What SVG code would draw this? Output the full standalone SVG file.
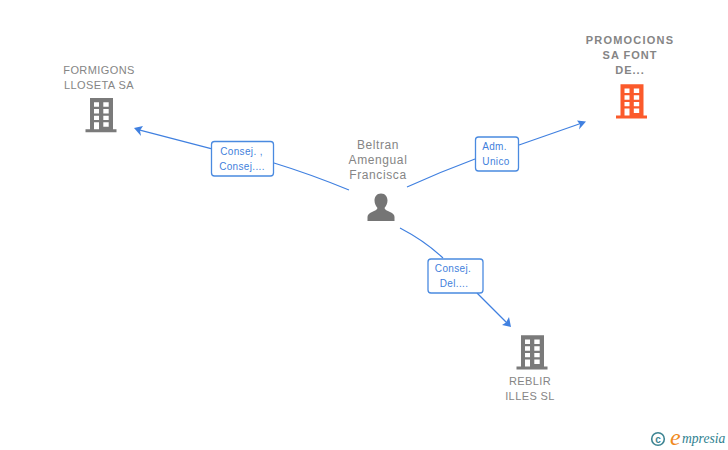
<svg xmlns="http://www.w3.org/2000/svg" xmlns:xlink="http://www.w3.org/1999/xlink" width="728" height="450" viewBox="0 0 728 450">
<style>
text{font-family:"Liberation Sans",Arial,sans-serif}
.n{font-size:11px;fill:#858585;text-anchor:middle;letter-spacing:.4px}
.p{font-size:12px;letter-spacing:.6px}
.l{font-size:10px;fill:#3f7fdc;text-anchor:middle;letter-spacing:.35px}
.b{fill:#fff;stroke:#4a8ae0;stroke-width:1.3}
.c{fill:none;stroke:#4080e0;stroke-width:1.2}
.h{fill:#4080e0}
</style>
<defs>
<g id="bld">
<path fill-rule="evenodd" d="M-11.500-33.700H11.500V-2.500H15V.5H-16V-2.500H-11.500ZM-7.500-29.400V-25H-2.500V-29.400ZM1.800-29.400V-25H7.200V-29.400ZM-7.500-22.700V-18.300H-2.500V-22.700ZM1.800-22.700V-18.300H7.200V-22.700ZM-7.500-16V-11.700H-2.500V-16ZM1.800-16V-11.700H7.200V-16ZM-7.500-9.400V-2.500H-2.500V-9.400ZM1.800-9.400V-5H7.200V-9.400Z"/>
</g>
</defs>
<rect width="728" height="450" fill="#fff"/>
<g id="connectors">
<path class="c" d="M349 190Q310 174 274 163"/>
<path class="c" d="M211 148.700L138 129.700"/>
<path class="h" d="M134 128L143 126L140 130.500L141 136Z"/>
<path class="c" d="M407 187Q440 172 475 159"/>
<path class="c" d="M519 145L582 123"/>
<path class="h" d="M586 121.500L577 120.500L580 124.500L579 129.500Z"/>
<path class="c" d="M400 228Q425 241 443 258"/>
<path class="c" d="M477 293L507 323"/>
<path class="h" d="M511 327L509 317L506 322.500L502 325Z"/>
</g>
<g id="label-formigons"><rect class="b" x="211.500" y="141.500" width="62" height="34.500" rx="3"/><text class="l" x="241.500" y="155">Consej. ,</text><text class="l" x="242" y="170">Consej....</text></g>
<g id="label-promocions"><rect class="b" x="475.500" y="137" width="43" height="34" rx="3"/><text class="l" x="494.500" y="150">Adm.</text><text class="l" x="496" y="165">Unico</text></g>
<g id="label-reblir"><rect class="b" x="428" y="259" width="55" height="34" rx="3"/><text class="l" x="453" y="272">Consej.</text><text class="l" x="454" y="287">Del....</text></g>
<g id="node-beltran">
<text class="n p" x="378" y="149">Beltran</text><text class="n p" x="378" y="164">Amengual</text><text class="n p" x="378" y="179">Francisca</text>
<path fill="#757575" d="M381 193.500C385.500 193.500 387.500 197 387.500 200.500C387.500 203.500 386 206 384.500 208C385 210 387 210.500 390 212C393 213.500 394.500 214.500 394.500 217V221H367.500V217C367.500 214.500 369 213.500 372 212C375 210.500 377 210 377.500 208C376 206 374.500 203.500 374.500 200.500C374.500 197 376.500 193.500 381 193.500Z"/>
</g>
<g id="node-formigons">
<text class="n" x="99" y="74">FORMIGONS</text><text class="n" x="99" y="88.500">LLOSETA SA</text>
<use xlink:href="#bld" href="#bld" x="101.500" y="131.700" fill="#7a7a7a"/>
</g>
<g id="node-promocions">
<text class="n" x="630" y="44" style="font-weight:700;letter-spacing:1.2px">PROMOCIONS</text><text class="n" x="630" y="59" style="font-weight:700;letter-spacing:1px">SA FONT</text><text class="n" x="630" y="74" style="font-weight:700;letter-spacing:1px">DE...</text>
<use xlink:href="#bld" href="#bld" x="632" y="118" fill="#fb5a2b"/>
</g>
<g id="node-reblir">
<use xlink:href="#bld" href="#bld" x="532.500" y="369" fill="#7a7a7a"/>
<text class="n" x="530" y="385">REBLIR</text><text class="n" x="530" y="400">ILLES SL</text>
</g>
<g id="logo">
<circle cx="658" cy="439" r="6.300" fill="none" stroke="#3d8492" stroke-width="1.600"/>
<text x="658" y="442.500" font-size="10" font-weight="700" fill="#3d8492" text-anchor="middle">c</text>
<text x="670" y="445" font-size="24" fill="#f08a1d" style="font-family:'Liberation Serif',serif;font-style:italic">e</text>
<text x="682" y="443" font-size="13.600" fill="#2f8190" style="font-family:'Liberation Serif',serif;font-style:italic">mpresia</text>
</g>
</svg>
